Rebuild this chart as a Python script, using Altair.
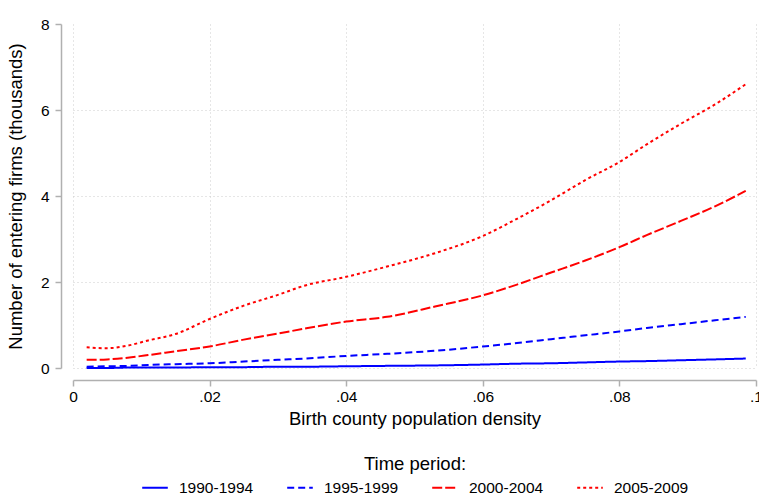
import altair as alt
import pandas as pd

# Birth county population density (x) at which each fitted curve is evaluated
density = [0.002, 0.005, 0.008, 0.011, 0.015, 0.02, 0.025, 0.03, 0.034, 0.04,
           0.046, 0.053, 0.06, 0.065, 0.07, 0.075, 0.08, 0.084, 0.089, 0.094, 0.0985]

# Number of entering firms (thousands) by time period
firms_1990_1994 = [0.00, 0.00, 0.01, 0.01, 0.01, 0.02, 0.02, 0.03, 0.03, 0.04,
                   0.05, 0.06, 0.08, 0.10, 0.11, 0.13, 0.15, 0.16, 0.18, 0.20, 0.22]
firms_1995_1999 = [0.03, 0.04, 0.05, 0.07, 0.09, 0.11, 0.15, 0.19, 0.22, 0.28,
                   0.33, 0.40, 0.50, 0.58, 0.67, 0.76, 0.85, 0.93, 1.02, 1.11, 1.19]
firms_2000_2004 = [0.19, 0.20, 0.24, 0.30, 0.39, 0.50, 0.66, 0.80, 0.92, 1.08,
                   1.19, 1.43, 1.69, 1.94, 2.22, 2.50, 2.81, 3.09, 3.42, 3.76, 4.12]
firms_2005_2009 = [0.48, 0.46, 0.52, 0.64, 0.79, 1.14, 1.45, 1.70, 1.92, 2.12,
                   2.36, 2.67, 3.07, 3.47, 3.90, 4.37, 4.79, 5.20, 5.68, 6.13, 6.60]

periods = ["1990-1994", "1995-1999", "2000-2004", "2005-2009"]
series = [firms_1990_1994, firms_1995_1999, firms_2000_2004, firms_2005_2009]

rows = []
for period, values in zip(periods, series):
    for x, y in zip(density, values):
        rows.append({"density": x, "firms": y, "period": period})
df = pd.DataFrame(rows)

FONT = "Liberation Sans"
AXIS_GRAY = "#b0b0b0"
TITLE_SIZE = 18.5
LABEL_SIZE = 15.5

x_axis = alt.Axis(
    values=[0, 0.02, 0.04, 0.06, 0.08, 0.1],
    labelExpr="datum.value == 0 ? '0' : substring(format(datum.value, '.2~f'), 1)",
    labelFlush=False,
    offset=12,
    tickSize=6,
    labelPadding=3,
    titlePadding=5,
    labelFontSize=LABEL_SIZE,
    titleFontSize=TITLE_SIZE,
)
y_axis = alt.Axis(
    values=[0, 2, 4, 6, 8],
    format="d",
    labelFlush=False,
    offset=12,
    tickSize=6,
    labelPadding=6,
    titlePadding=15,
    labelFontSize=LABEL_SIZE,
    titleFontSize=TITLE_SIZE,
    gridOpacity={"condition": {"test": "datum.value == 8", "value": 0}, "value": 1},
)

legend = alt.Legend(
    title="Time period:",
    orient="none",
    direction="horizontal",
    columns=4,
    legendX=68,
    legendY=431,
    titleAnchor="middle",
    titleFontSize=TITLE_SIZE,
    titleFontWeight="normal",
    titlePadding=0,
    labelFontSize=LABEL_SIZE,
    labelOffset=10,
    columnPadding=29,
    symbolType="stroke",
    symbolSize=655,
    symbolStrokeWidth=2,
)

chart = (
    alt.Chart(df)
    .mark_line(strokeWidth=2, interpolate="monotone")
    .encode(
        x=alt.X("density:Q", title="Birth county population density",
                scale=alt.Scale(domain=[0, 0.1], nice=False), axis=x_axis),
        y=alt.Y("firms:Q", title="Number of entering firms (thousands)",
                scale=alt.Scale(domain=[0, 8], nice=False), axis=y_axis),
        color=alt.Color("period:N", scale=alt.Scale(
            domain=periods, range=["#0000ff", "#0000ff", "#ff0000", "#ff0000"]),
            legend=legend),
        strokeDash=alt.StrokeDash("period:N", scale=alt.Scale(
            domain=periods, range=[[1, 0], [7, 4], [10, 3], [3, 3]]),
            legend=legend),
        detail="period:N",
    )
    .properties(
        width=683,
        height=344,
        autosize=alt.AutoSizeParams(type="none"),
        padding={"left": 73, "top": 24, "right": 3, "bottom": 128},
    )
    .configure(font=FONT)
    .configure_view(stroke=None)
    .configure_axis(
        domainColor=AXIS_GRAY,
        tickColor=AXIS_GRAY,
        domainWidth=1.5,
        tickWidth=1.5,
        gridColor="#cccccc",
        gridDash=[1, 3],
        gridWidth=1,
        labelColor="#000000",
        titleColor="#000000",
        titleFontWeight="normal",
        labelFont=FONT,
        titleFont=FONT,
    )
    .configure_legend(labelFont=FONT, titleFont=FONT, labelColor="#000000",
                      titleColor="#000000")
)

chart.save("out.html", embed_options={"renderer": "svg", "actions": False})
